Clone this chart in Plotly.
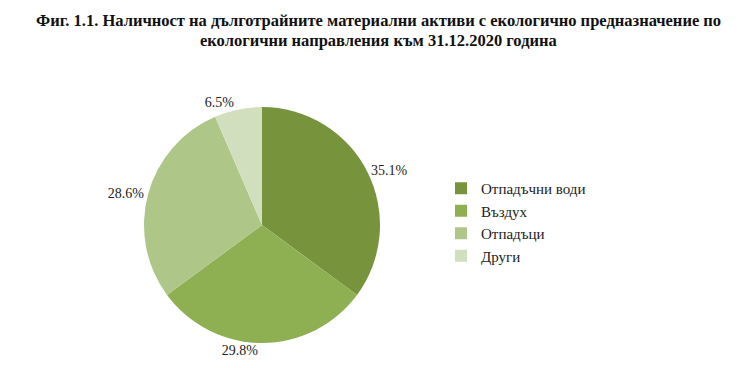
import plotly.graph_objects as go

categories = ["Отпадъчни води", "Въздух", "Отпадъци", "Други"]
values = [35.1, 29.8, 28.6, 6.5]
colors = ["#77933C", "#8FB052", "#AEC788", "#D2DFBF"]
title_lines = [
    "<b>Фиг. 1.1. Наличност на дълготрайните материални активи с екологично предназначение по</b>",
    "<b>екологични направления към 31.12.2020 година</b>",
]

W, H = 740, 368
cx, cy, r = 254, 217, 118

fig = go.Figure(go.Pie(
    labels=categories,
    values=values,
    sort=False,
    direction="clockwise",
    rotation=0,
    marker=dict(colors=colors, line=dict(width=0)),
    textposition="outside",
    texttemplate="%{percent:.1%}",
    textfont=dict(family="Liberation Serif", size=14, color="#222222"),
    hoverinfo="label+percent",
    domain=dict(x=[(cx - r) / W, (cx + r) / W], y=[(H - cy - r) / H, (H - cy + r) / H]),
    showlegend=True,
))

title_y = [12, 32]
fig.update_layout(
    width=W, height=H,
    margin=dict(l=0, r=0, t=0, b=0),
    paper_bgcolor="white",
    plot_bgcolor="white",
    legend=dict(
        x=433 / W, xanchor="left", y=(H - 164) / H, yanchor="top",
        font=dict(family="Liberation Serif", size=15, color="#222222"),
        itemwidth=30, tracegroupgap=0,
        bgcolor="rgba(0,0,0,0)",
    ),
    annotations=[dict(
        text=t, x=0.5, xref="paper", xanchor="center",
        y=(H - yy) / H, yref="paper", yanchor="middle", showarrow=False,
        font=dict(family="Liberation Serif", size=16.5, color="#111111"),
        align="center",
    ) for t, yy in zip(title_lines, title_y)],
)

fig.write_html("out.html")
